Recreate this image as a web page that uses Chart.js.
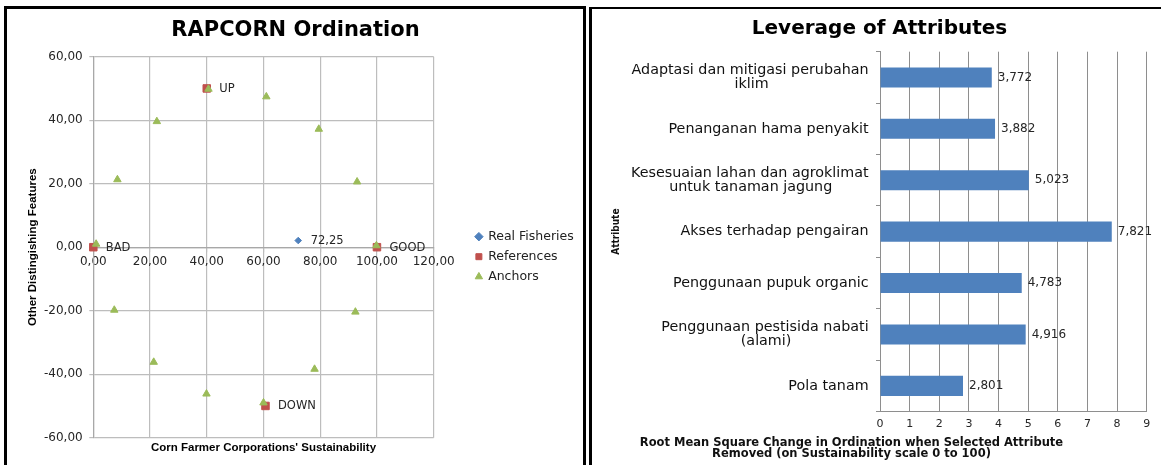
<!DOCTYPE html>
<html><head><meta charset="utf-8">
<script src="https://cdn.jsdelivr.net/npm/chart.js@4.4.1/dist/chart.umd.min.js"></script>
<style>
html,body{margin:0;padding:0;background:#fff;width:1161px;height:465px;overflow:hidden;position:relative}
.panel{position:absolute;border:3px solid #000;box-sizing:border-box}
#p1{left:4px;top:6px;width:582px;height:480px}
#p2{left:589px;top:7px;width:600px;height:480px;border-top-width:2px}
canvas{position:absolute}
#c1{left:7px;top:8px;width:577px;height:457px}
#c2{left:592px;top:8px;width:569px;height:457px}
</style></head><body>
<div class="panel" id="p1"></div><div class="panel" id="p2"></div>
<canvas id="c1" width="577" height="457"></canvas>
<canvas id="c2" width="569" height="457"></canvas>
<script>
// ---------- data: left chart (RAPCORN ordination) ----------
const realX = [72.25];
const realY = [2.1];
const refNames = ['BAD', 'GOOD', 'UP', 'DOWN'];
const refX = [0, 100, 40, 60.7];
const refY = [0, 0, 50, -50];
const anchorX = [1, 8.5, 22.4, 40.6, 61, 79.5, 93, 99.8, 92.4, 78, 60, 39.9, 21.3, 7.4];
const anchorY = [1, 21.3, 39.6, 49.8, 47.4, 37.2, 20.6, 0.5, -20.4, -38.4, -49, -46.2, -36.2, -19.8];
const seriesNames = ['Real Fisheries', 'References', 'Anchors'];
const leftTitle = 'RAPCORN Ordination';
const leftXTitle = "Corn Farmer Corporations' Sustainability";
const leftYTitle = 'Other Distingishing Features';

// ---------- data: right chart (leverage) ----------
const attributes = [
  ['Adaptasi dan mitigasi perubahan', 'iklim'],
  'Penanganan hama penyakit',
  ['Kesesuaian lahan dan agroklimat', 'untuk tanaman jagung'],
  'Akses terhadap pengairan',
  'Penggunaan pupuk organic',
  ['Penggunaan pestisida nabati', '(alami)'],
  'Pola tanam'
];
const leverage = [3.772, 3.882, 5.023, 7.821, 4.783, 4.916, 2.801];
const rightTitle = 'Leverage of Attributes';
const rightYTitle = 'Attribute';
const rightCaption = ['Root Mean Square Change in Ordination when Selected Attribute', 'Removed (on Sustainability scale 0 to 100)'];

// ---------- styling ----------
const BLUE = '#4F81BD', RED = '#C0504D', GREEN = '#9BBB59';
const GRID1 = '#bdbdbd', AXIS1 = '#a8a8a8', GRID2 = '#8e8e8e';
const TXT = '#262626';
Chart.defaults.font.family = '"DejaVu Sans", sans-serif';
Chart.defaults.color = TXT;

const fmt2 = v => Number(v).toFixed(2).replace('.', ',');
const fmt3 = v => Number(v).toFixed(3).replace('.', ',');

const mctx = document.createElement('canvas').getContext('2d');
function centerLines(label, font) {
  if (!Array.isArray(label)) return label;
  mctx.font = font;
  const w = label.map(l => mctx.measureText(l).width);
  const max = Math.max(...w);
  const sp = mctx.measureText(' ').width;
  return label.map((l, i) => l + ' '.repeat(Math.round((max - w[i]) / 2 / sp)));
}

const pointLabels = {
  id: 'pointLabels',
  afterDatasetsDraw(chart) {
    const ctx = chart.ctx;
    ctx.save();
    ctx.font = '11.5px "DejaVu Sans"';
    ctx.fillStyle = TXT;
    ctx.textAlign = 'left';
    ctx.textBaseline = 'middle';
    chart.getDatasetMeta(1).data.forEach((el, i) => ctx.fillText(refNames[i], el.x + 12.5, el.y + 0.5));
    chart.getDatasetMeta(0).data.forEach((el, i) => ctx.fillText(fmt2(realX[i]), el.x + 12.5, el.y));
    ctx.restore();
  }
};

new Chart(document.getElementById('c1'), {
  type: 'scatter',
  data: {
    datasets: [
      { label: seriesNames[0], data: realX.map((x, i) => ({x, y: realY[i]})), pointStyle: 'rectRot', pointRadius: 3.3,
        backgroundColor: BLUE, borderColor: BLUE, borderWidth: 1, order: 0, clip: false },
      { label: seriesNames[1], data: refX.map((x, i) => ({x, y: refY[i]})), pointStyle: 'rect', pointRadius: 5.3,
        backgroundColor: RED, borderColor: RED, borderWidth: 1, order: 2, clip: false },
      { label: seriesNames[2], data: anchorX.map((x, i) => ({x, y: anchorY[i]})), pointStyle: 'triangle', pointRadius: 4.3,
        backgroundColor: GREEN, borderColor: GREEN, borderWidth: 1, order: 1, clip: false }
    ]
  },
  options: {
    responsive: false, animation: false, events: [],
    layout: { padding: { left: 0.25, right: 0.25, top: 0, bottom: 8.3 } },
    plugins: {
      tooltip: { enabled: false },
      title: { display: true, text: leftTitle, color: '#000', font: { size: 21, weight: 'bold' }, padding: { top: 10.4, bottom: 13.1 } },
      legend: {
        position: 'right', fullSize: false, align: 'center', maxWidth: 200,
        title: { display: true, text: ' ', padding: 0, font: { size: 15.8 } },
        labels: { usePointStyle: true, boxWidth: 6, boxHeight: 6, padding: 7.5, color: '#222', font: { size: 12.5 },
                  sort: (a, b) => a.datasetIndex - b.datasetIndex }
      }
    },
    scales: {
      x: { type: 'linear', position: { y: 0 }, min: 0, max: 120,
           ticks: { stepSize: 20, padding: 3.3, callback: v => fmt2(v), font: { size: 12 }, color: TXT },
           grid: { color: GRID1, lineWidth: 1.2, tickLength: 4 }, border: { color: AXIS1, width: 1.2 } },
      y: { type: 'linear', position: 'left', min: -60, max: 60,
           ticks: { stepSize: 20, padding: 6.6, callback: v => fmt2(v), font: { size: 12 }, color: TXT },
           grid: { color: GRID1, lineWidth: 1.2, tickLength: 4 }, border: { color: AXIS1, width: 1.2 },
           title: { display: true, text: leftYTitle, color: '#000',
                    font: { family: '"Liberation Sans", Arial, sans-serif', size: 11.5, weight: 'bold' }, padding: { top: 19.15, bottom: 0 } },
           afterFit(s) { s.width = 86.05; } },
      x2: { type: 'linear', position: 'bottom', display: true,
            grid: { display: false, drawTicks: false }, border: { display: false }, ticks: { display: false },
            title: { display: true, text: leftXTitle, color: '#000',
                     font: { family: '"Liberation Sans", Arial, sans-serif', size: 11.5, weight: 'bold' }, padding: { top: 3.7, bottom: 1.5 } } },
      yPad: { type: 'linear', position: 'right', display: true,
              grid: { display: false, drawTicks: false }, border: { display: false }, ticks: { display: false },
              afterFit(s) { s.width = 34.7; } }
    }
  },
  plugins: [pointLabels]
});

const LABEL_FONT = '14.3px "DejaVu Sans"';

const barValues = {
  id: 'barValues',
  afterDatasetsDraw(chart) {
    const ctx = chart.ctx;
    ctx.save();
    ctx.font = '12px "DejaVu Sans"';
    ctx.fillStyle = TXT;
    ctx.textAlign = 'left';
    ctx.textBaseline = 'middle';
    chart.getDatasetMeta(0).data.forEach((bar, i) => ctx.fillText(fmt3(leverage[i]), bar.x + 6, bar.y));
    ctx.restore();
  }
};
const caption = {
  id: 'caption',
  afterDraw(chart) {
    const ctx = chart.ctx;
    const a = chart.chartArea;
    ctx.save();
    ctx.font = 'bold 11.5px "DejaVu Sans"';
    ctx.fillStyle = '#111';
    ctx.textAlign = 'center';
    ctx.textBaseline = 'middle';
    rightCaption.forEach((line, i) => ctx.fillText(line, a.left - 28.5, a.bottom + 31.3 + i * 11));
    ctx.restore();
  }
};

new Chart(document.getElementById('c2'), {
  type: 'bar',
  data: {
    labels: attributes,
    datasets: [{ data: leverage, backgroundColor: BLUE, borderWidth: 0, barPercentage: 0.39, categoryPercentage: 1 }]
  },
  options: {
    indexAxis: 'y', responsive: false, animation: false, events: [],
    layout: { padding: { left: 20.3, right: 14.3, top: 0, bottom: 27.4 } },
    plugins: {
      legend: { display: false }, tooltip: { enabled: false },
      title: { display: true, text: rightTitle, color: '#000', font: { size: 20, weight: 'bold' }, padding: { top: 8.5, bottom: 11.2 } }
    },
    scales: {
      x: { type: 'linear', min: 0, max: 9,
           ticks: { stepSize: 1, padding: 6.4, font: { size: 11 }, color: TXT },
           grid: { color: GRID2, lineWidth: 1, drawTicks: false }, border: { color: GRID2 } },
      y: { type: 'category',
           ticks: { autoSkip: false, padding: 7.4, color: '#111', font: { size: 14.3, lineHeight: 1.0 },
                    callback(v) { return centerLines(this.getLabelForValue(v), LABEL_FONT); } },
           grid: { drawOnChartArea: false, drawTicks: true, tickLength: 4, color: GRID2, offset: true },
           border: { color: GRID2 },
           title: { display: true, text: rightYTitle, color: '#111',
                    font: { family: '"DejaVu Sans Condensed", "DejaVu Sans", sans-serif', size: 10, weight: 'bold', lineHeight: 0.8 }, padding: 0 },
           afterFit(s) { s.width = 267.7; } }
    }
  },
  plugins: [barValues, caption]
});
</script>
</body></html>
